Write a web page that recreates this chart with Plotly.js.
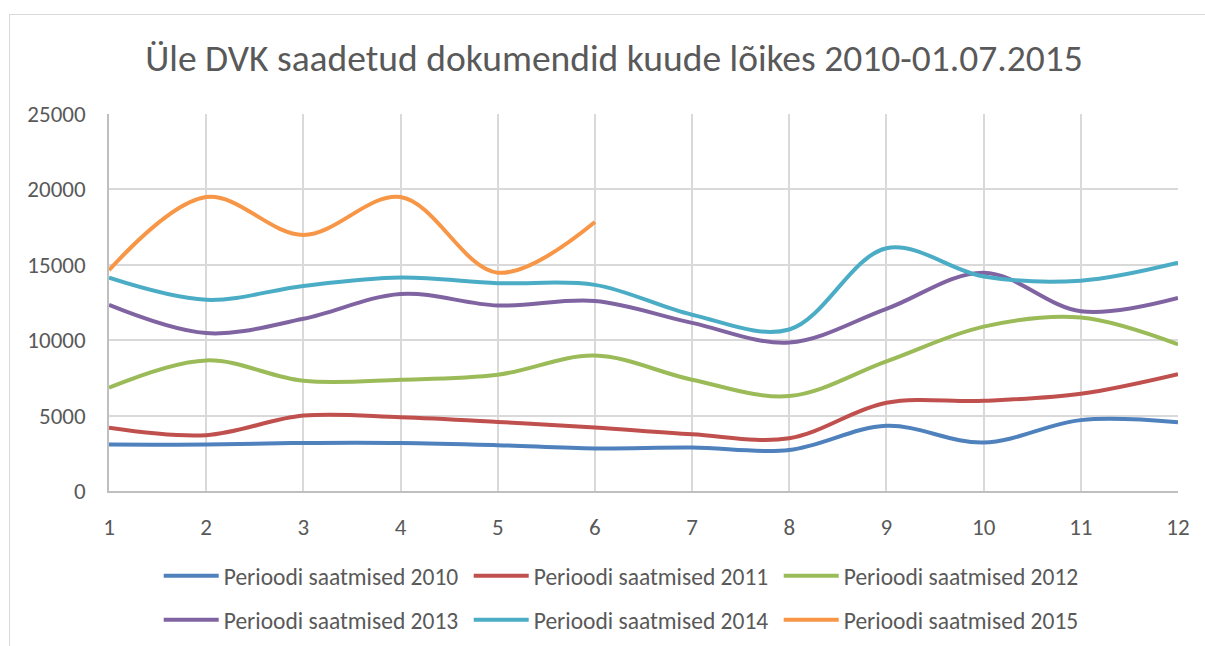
<!DOCTYPE html>
<html>
<head>
<meta charset="utf-8">
<script src="https://cdn.plot.ly/plotly-3.0.1.min.js"></script>
<style>
html,body{margin:0;padding:0;background:#fff;}
#frame{position:absolute;left:9px;top:14px;width:1300px;height:700px;border-top:1px solid #d9d9d9;border-left:1px solid #d9d9d9;pointer-events:none;}
#chart{position:absolute;left:0;top:0;width:1205px;height:646px;}
</style>
</head>
<body>
<div id="chart"></div>
<div id="frame"></div>
<script>
var months = [1,2,3,4,5,6,7,8,9,10,11,12];
var seriesNames = ["Perioodi saatmised 2010","Perioodi saatmised 2011","Perioodi saatmised 2012","Perioodi saatmised 2013","Perioodi saatmised 2014","Perioodi saatmised 2015"];
var s2010 = [3080,3080,3190,3190,3040,2820,2880,2720,4320,3210,4700,4560];
var s2011 = [4190,3700,5000,4890,4580,4210,3760,3500,5850,5980,6450,7750];
var s2012 = [6850,8660,7310,7380,7710,8980,7380,6300,8600,10900,11500,9720];
var s2013 = [12340,10470,11420,13070,12300,12600,11150,9850,12080,14480,11920,12800];
var s2014 = [14140,12680,13600,14150,13780,13670,11690,10710,16100,14230,13950,15140];
var s2015 = [14650,19490,16980,19490,14480,17840];
var colors = ["#4F81BD","#C0504D","#9BBB59","#8064A2","#4BACC6","#F79646"];
var allSeries = [s2010,s2011,s2012,s2013,s2014,s2015];

var font = "Carlito, Calibri, 'Liberation Sans Narrow', 'Open Sans', sans-serif";
var traces = allSeries.map(function(s,i){
  return {
    x: months.slice(0,s.length),
    y: s,
    name: seriesNames[i],
    type: "scatter",
    mode: "lines",
    legend: i < 3 ? "legend" : "legend2",
    line: {color: colors[i], width: 4, shape: "spline", smoothing: 1},
    hoverinfo: "x+y+name"
  };
});

var legendCommon = {
  orientation: "h", xanchor: "left", yanchor: "middle",
  entrywidth: 240, entrywidthmode: "pixels", itemwidth: 55,
  font: {family: font, size: 23.5, color: "#595959"},
  bgcolor: "rgba(0,0,0,0)", traceorder: "normal"
};

var layout = {
  width: 1205, height: 646,
  margin: {l:109, r:27, t:114, b:155, autoexpand: false},
  paper_bgcolor: "#ffffff",
  plot_bgcolor: "#ffffff",
  font: {family: font, color: "#595959", size: 23},
  title: {text: "Üle DVK saadetud dokumendid kuude lõikes 2010-01.07.2015",
          font: {family: font, size: 37.5, color: "#595959"},
          xref: "paper", x: 0.4724, xanchor: "center", y: 0.91, yanchor: "middle"},
  xaxis: {
    range: [1,12], tickmode: "array", tickvals: months, ticktext: months.map(String),
    showgrid: true, gridcolor: "#d9d9d9", gridwidth: 1.5,
    showline: true, linecolor: "#bfbfbf", linewidth: 1.5,
    zeroline: false, ticks: "", ticklabelstandoff: 15, automargin: false,
    tickfont: {family: font, size: 23, color: "#595959"}
  },
  yaxis: {
    range: [0,25000], tickvals: [0,5000,10000,15000,20000,25000],
    ticktext: ["0","5000","10000","15000","20000","25000"],
    showgrid: true, gridcolor: "#d9d9d9", gridwidth: 1.5,
    showline: true, linecolor: "#bfbfbf", linewidth: 1.5,
    zeroline: false, ticks: "", ticklabelstandoff: 17, automargin: false,
    tickfont: {family: font, size: 23, color: "#595959"}
  },
  showlegend: true,
  legend: Object.assign({}, legendCommon, {x: 0.0465, y: -0.2255}),
  legend2: Object.assign({}, legendCommon, {x: 0.0465, y: -0.342})
};

Plotly.newPlot("chart", traces, layout, {displayModeBar: false, responsive: false});
</script>
</body>
</html>
